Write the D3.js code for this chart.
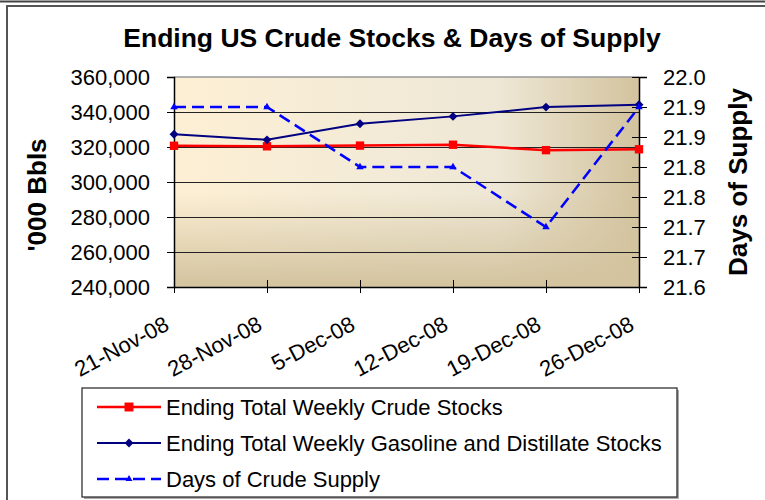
<!DOCTYPE html>
<html>
<head>
<meta charset="utf-8">
<script src="https://cdn.jsdelivr.net/npm/d3@7"></script>
<style>
	body { margin: 0; background: #fff; }
	svg { display: block; font-family: "Liberation Sans", Arial, sans-serif; }
</style>
</head>
<body>
<svg id="chart"></svg>
<script>
const dates = ['21-Nov-08', '28-Nov-08', '5-Dec-08', '12-Dec-08', '19-Dec-08', '26-Dec-08'];
const crudeStocks = [320700, 320400, 320800, 321300, 318200, 318700];
const gasDistStocks = [327300, 324100, 333300, 337500, 342800, 344200];
const daysSupply = [21.9, 21.9, 21.8, 21.8, 21.7, 21.9];

const leftTicks = [240000, 260000, 280000, 300000, 320000, 340000, 360000];
const rightTicks = [21.6, 21.65, 21.7, 21.75, 21.8, 21.85, 21.9, 21.95];
const rightTickLabels = ['21.6', '21.7', '21.7', '21.8', '21.8', '21.9', '21.9', '22.0'];

const seriesNames = ['Ending Total Weekly Crude Stocks', 'Ending Total Weekly Gasoline and Distillate Stocks', 'Days of Crude Supply'];

const width = 765, height = 500;
const plot = {left: 174, right: 639, top: 77, bottom: 287};

const svg = d3.select('#chart').attr('width', width).attr('height', height);

// frame
svg.append('line').attr('x1', 0).attr('x2', width).attr('y1', 1.5).attr('y2', 1.5)
	.attr('stroke', '#444').attr('stroke-width', 2);
svg.append('rect').attr('x', 7).attr('y', 6).attr('width', width).attr('height', height)
	.attr('fill', '#fff').attr('stroke', '#555').attr('stroke-width', 2);

// plot background gradients
const defs = svg.append('defs');
const gH = defs.append('linearGradient').attr('id', 'bgH').attr('x1', 0).attr('x2', 1).attr('y1', 0).attr('y2', 0);
gH.append('stop').attr('offset', '0%').attr('stop-color', '#fdefd4');
gH.append('stop').attr('offset', '45%').attr('stop-color', '#f3ebd7');
gH.append('stop').attr('offset', '70%').attr('stop-color', '#eee7d5');
gH.append('stop').attr('offset', '100%').attr('stop-color', '#d3c39e');
const gV = defs.append('linearGradient').attr('id', 'bgV').attr('x1', 0).attr('x2', 0).attr('y1', 0).attr('y2', 1);
gV.append('stop').attr('offset', '0%').attr('stop-color', '#d3c39e').attr('stop-opacity', 0);
gV.append('stop').attr('offset', '55%').attr('stop-color', '#d3c39e').attr('stop-opacity', 0);
gV.append('stop').attr('offset', '100%').attr('stop-color', '#d3c39e').attr('stop-opacity', 1);

const x = d3.scalePoint().domain(dates).range([plot.left, plot.right]).padding(0);
const yL = d3.scaleLinear().domain([240000, 360000]).range([plot.bottom, plot.top]);
const yR = d3.scaleLinear().domain([21.6, 21.95]).range([plot.bottom, plot.top]);

const pw = plot.right - plot.left, ph = plot.bottom - plot.top;
svg.append('rect').attr('x', plot.left).attr('y', plot.top).attr('width', pw).attr('height', ph).attr('fill', 'url(#bgH)');
svg.append('rect').attr('x', plot.left).attr('y', plot.top).attr('width', pw).attr('height', ph).attr('fill', 'url(#bgV)');

// gridlines
svg.append('g').selectAll('line')
	.data(leftTicks.slice(1, -1))
	.join('line')
	.attr('x1', plot.left).attr('x2', plot.right)
	.attr('y1', d => Math.round(yL(d)) + 0.5).attr('y2', d => Math.round(yL(d)) + 0.5)
	.attr('stroke', '#222').attr('stroke-width', 1);
svg.append('line').attr('x1', plot.left).attr('x2', plot.right).attr('y1', plot.top).attr('y2', plot.top)
	.attr('stroke', '#999').attr('stroke-width', 1.5);

const fmt = d3.format(',');

// left axis
const axL = svg.append('g').attr('transform', `translate(${plot.left},0)`)
	.call(d3.axisLeft(yL).tickValues(leftTicks).tickFormat(fmt).tickSize(7).tickPadding(17));
axL.select('.domain').attr('stroke', '#000').attr('stroke-width', 1.5);
axL.selectAll('.tick line').attr('stroke', '#000');
axL.selectAll('.tick text').attr('font-size', 22).attr('fill', '#000');

// right axis
const axR = svg.append('g').attr('transform', `translate(${plot.right},0)`)
	.call(d3.axisRight(yR).tickValues(rightTicks).tickFormat((d, i) => rightTickLabels[i]).tickSize(8).tickPadding(16));
axR.select('.domain').attr('stroke', '#000').attr('stroke-width', 1.5);
axR.selectAll('.tick line').attr('x1', -7).attr('stroke', '#000');
axR.selectAll('.tick text').attr('font-size', 22).attr('fill', '#000');

// bottom axis
const axB = svg.append('g').attr('transform', `translate(0,${plot.bottom})`)
	.call(d3.axisBottom(x).tickSize(6).tickSizeOuter(0));
axB.select('.domain').attr('stroke', '#000').attr('stroke-width', 1.5);
axB.selectAll('.tick line').attr('y1', -7).attr('stroke', '#000');
axB.selectAll('.tick text')
	.attr('font-size', 22).attr('fill', '#000')
	.attr('text-anchor', 'end')
	.attr('dy', null).attr('y', null)
	.attr('transform', 'translate(-4,42) rotate(-28)');

// series lines
const lineL = d3.line().x((d, i) => x(dates[i])).y(d => yL(d));
const lineR = d3.line().x((d, i) => x(dates[i])).y(d => yR(d));

svg.append('path').datum(crudeStocks).attr('d', lineL)
	.attr('fill', 'none').attr('stroke', '#ff0000').attr('stroke-width', 2.5);
svg.append('path').datum(gasDistStocks).attr('d', lineL)
	.attr('fill', 'none').attr('stroke', '#000080').attr('stroke-width', 2);
svg.append('path').datum(daysSupply).attr('d', lineR)
	.attr('fill', 'none').attr('stroke', '#0000ff').attr('stroke-width', 2.5).attr('stroke-dasharray', '12,6');

// markers
const square = d3.symbol().type(d3.symbolSquare).size(70);
const diamond = d3.symbol().type(d3.symbolDiamond2).size(50);
const triangle = d3.symbol().type(d3.symbolTriangle2).size(40);

svg.append('g').selectAll('path').data(crudeStocks).join('path')
	.attr('d', square).attr('fill', '#ff0000')
	.attr('transform', (d, i) => `translate(${x(dates[i])},${yL(d)})`);
svg.append('g').selectAll('path').data(gasDistStocks).join('path')
	.attr('d', diamond).attr('fill', '#000080')
	.attr('transform', (d, i) => `translate(${x(dates[i])},${yL(d)})`);
svg.append('g').selectAll('path').data(daysSupply).join('path')
	.attr('d', triangle).attr('fill', '#0000ff')
	.attr('transform', (d, i) => `translate(${x(dates[i])},${yR(d)})`);

// titles
svg.append('text').attr('x', 392).attr('y', 47).attr('text-anchor', 'middle')
	.attr('font-size', 26.5).attr('font-weight', 'bold')
	.text('Ending US Crude Stocks & Days of Supply');
svg.append('text').attr('transform', 'translate(46,195) rotate(-90)').attr('text-anchor', 'middle')
	.attr('font-size', 26).attr('font-weight', 'bold')
	.text("'000 Bbls");
svg.append('text').attr('transform', 'translate(747,182) rotate(-90)').attr('text-anchor', 'middle')
	.attr('font-size', 26).attr('font-weight', 'bold')
	.text('Days of Supply');

// legend
const legend = svg.append('g');
legend.append('rect').attr('x', 84).attr('y', 390).attr('width', 595).attr('height', 109).attr('fill', '#aaa');
legend.append('rect').attr('x', 82).attr('y', 388).attr('width', 595).attr('height', 109)
	.attr('fill', '#fff').attr('stroke', '#222').attr('stroke-width', 1.2);

const legendRows = [
	{name: seriesNames[0], color: '#ff0000', width: 2.5, dash: null, symbol: d3.symbol().type(d3.symbolSquare).size(80)},
	{name: seriesNames[1], color: '#000080', width: 2, dash: null, symbol: d3.symbol().type(d3.symbolDiamond2).size(50)},
	{name: seriesNames[2], color: '#0000ff', width: 2.5, dash: '12,6', symbol: d3.symbol().type(d3.symbolTriangle2).size(35)}
];
const rowY = [407, 443, 479];

const rows = legend.selectAll('g.row').data(legendRows).join('g').attr('class', 'row')
	.attr('transform', (d, i) => `translate(0,${rowY[i]})`);
rows.append('line').attr('x1', 97).attr('x2', 161).attr('y1', 0).attr('y2', 0)
	.attr('stroke', d => d.color).attr('stroke-width', d => d.width)
	.attr('stroke-dasharray', d => d.dash);
rows.append('path').attr('d', d => d.symbol()).attr('fill', d => d.color)
	.attr('transform', 'translate(129,0)');
rows.append('text').attr('x', 166).attr('dy', '0.35em').attr('font-size', 22).attr('fill', '#000')
	.text(d => d.name);
</script>
</body>
</html>
